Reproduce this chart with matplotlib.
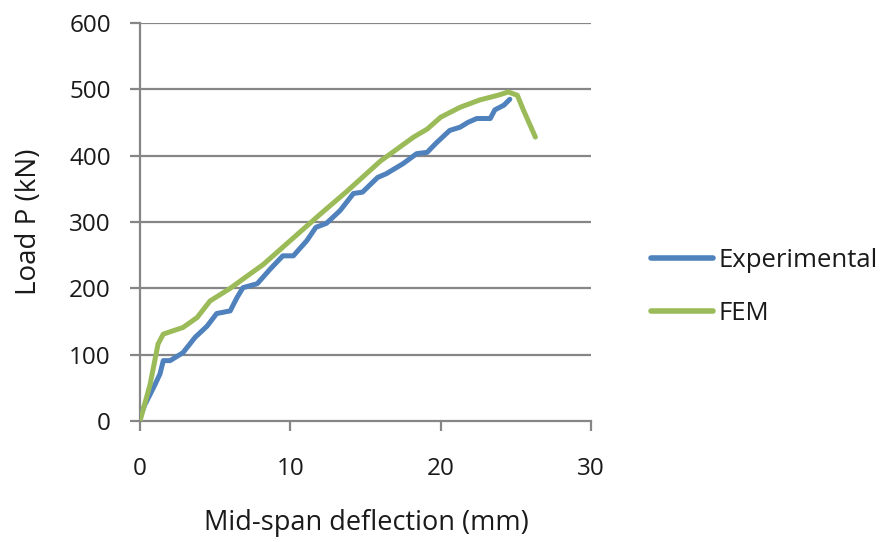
import matplotlib
matplotlib.use("Agg")
import matplotlib.pyplot as plt

# Mid-span deflection (mm) vs load (kN)
exp_defl = [0.0, 0.33, 0.67, 1.0, 1.33, 1.55, 2.0, 2.86, 3.66, 4.46, 5.1, 6.0, 6.45,
            6.85, 7.8, 8.66, 9.5, 10.2, 11.1, 11.7, 12.4, 13.3, 14.2, 14.8, 15.8,
            16.4, 17.5, 18.4, 19.1, 19.7, 20.6, 21.3, 21.8, 22.4, 23.3, 23.6, 24.2,
            24.6]
exp_load = [5, 25, 40, 55, 71, 91, 91, 103, 126, 143, 162, 166, 186,
            201, 207, 229, 249, 249, 272, 292, 298, 317, 343, 345, 367,
            373, 388, 403, 405, 419, 438, 443, 450, 456, 456, 469, 476,
            485]

fem_defl = [0.0, 0.67, 1.2, 1.55, 2.2, 2.86, 3.8, 4.66, 6.0, 6.85, 8.2, 9.5,
            10.8, 12.0, 13.8, 16.0, 18.2, 19.1, 20.0, 21.3, 22.6, 23.8, 24.5,
            25.1, 25.5, 26.3]
fem_load = [0, 55, 116, 131, 136, 141, 156, 181, 200, 214, 236, 262,
            288, 312, 347, 392, 428, 440, 458, 473, 484, 491, 496,
            491, 469, 428]

x_ticks = [0, 10, 20, 30]
y_ticks = [0, 100, 200, 300, 400, 500, 600]

plt.rcParams['font.family'] = ['Open Sans', 'DejaVu Sans']

fig = plt.figure(figsize=(8.91, 5.42), dpi=100)
ax = fig.add_axes([140/891, 1-421/542, 451/891, 398/542])

grid_c = '#868686'
blue = '#4F81BD'
green = '#9BBB59'
txt_c = '#1a1a1a'

for yv in y_ticks[1:]:
    ax.axhline(yv, color=grid_c, lw=1.6, zorder=1)

ax.plot(exp_defl, exp_load, color=blue, lw=3.6, solid_joinstyle='round',
        solid_capstyle='round', label='Experimental', zorder=3)
ax.plot(fem_defl, fem_load, color=green, lw=3.6, solid_joinstyle='round',
        solid_capstyle='round', label='FEM', zorder=4)

ax.set_xlim(0, 30)
ax.set_ylim(0, 600)
ax.set_xticks(x_ticks)
ax.set_yticks(y_ticks)

for s in ['top', 'right']:
    ax.spines[s].set_visible(False)
for s in ['left', 'bottom']:
    ax.spines[s].set_color(grid_c)
    ax.spines[s].set_linewidth(1.6)

ax.tick_params(axis='both', colors=grid_c, width=1.6, length=7, labelsize=17.5,
               labelcolor=txt_c)
ax.tick_params(axis='x', pad=19)
ax.tick_params(axis='y', pad=14)

ax.set_xlabel('Mid-span deflection (mm)', fontsize=19.5, color=txt_c, va='center')
ax.xaxis.set_label_coords(0.502, (421 - 523) / 398)
ax.set_ylabel('Load P (kN)', fontsize=20, color=txt_c, va='center', ha='center')
ax.yaxis.set_label_coords((29 - 140) / 451, 0.5)

leg = fig.legend(loc='center left', bbox_to_anchor=(641/891, 1-287/542), frameon=False,
                 borderaxespad=0, fontsize=18.5, handlelength=2.4, handletextpad=0.2,
                 labelspacing=1.06)
for h in leg.get_lines():
    h.set_linewidth(4)
for t in leg.get_texts():
    t.set_color(txt_c)

fig.savefig('out.png', dpi=100)
